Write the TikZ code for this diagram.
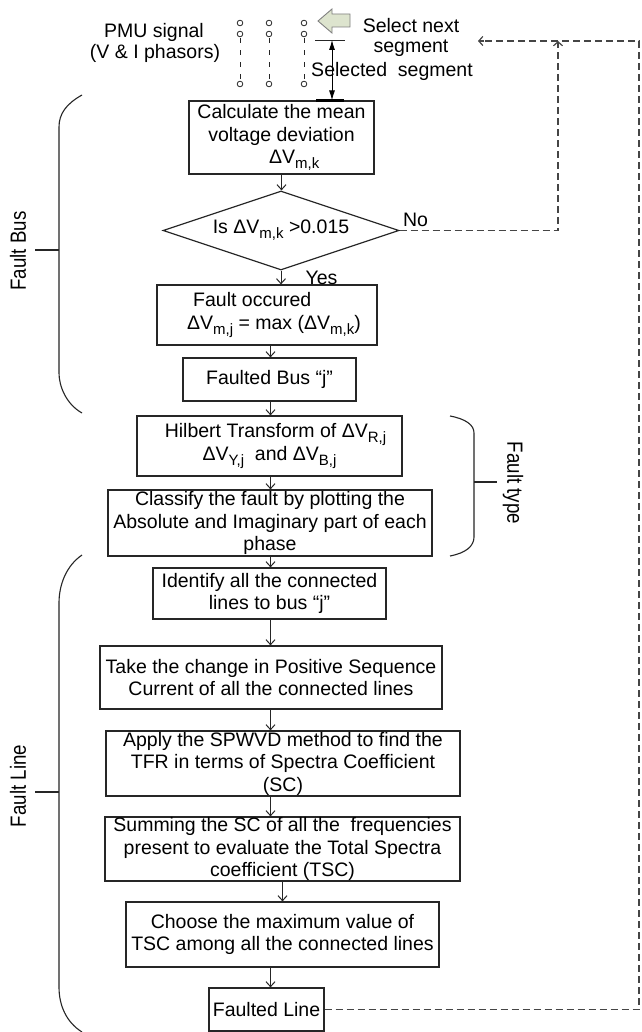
\documentclass[tikz,border=0pt]{standalone}
\usepackage{fontspec}
\setmainfont{Liberation Sans}
\usetikzlibrary{arrows.meta,shapes.geometric}
\newcommand{\lsub}[1]{\raisebox{-0.5ex}{\fontsize{15pt}{15pt}\selectfont #1}}
\definecolor{arrowfill}{HTML}{DDE4CE}
\definecolor{fbgray}{HTML}{454545}
\begin{document}
\begin{tikzpicture}[x=1pt,y=-1pt,
  txt/.style={font=\fontsize{19.5pt}{22.5pt}\selectfont, inner sep=0pt},
  box/.style={txt, draw=black!85, line width=1.2pt, align=center},
  arr/.style={draw=black!85, line width=1pt, -{Straight Barb[length=5pt,width=9pt]}},
  fb/.style={draw=fbgray, line width=1.3pt, dash pattern=on 7pt off 4pt},
  fbtip/.style={-{Straight Barb[length=4pt,width=9pt]}},
  side/.style={font=\fontsize{22pt}{22pt}\selectfont, inner sep=0pt},
  brace/.style={draw=black!85, line width=1.1pt},
  pin/.style={draw=black!85, line width=0.8pt}]
\path[use as bounding box, fill=white] (0,0) rectangle (641,1032);

% PMU signal lines
\foreach \c in {240,269,304}{
  \draw[pin] (\c,23) circle (2.8);
  \draw[pin] (\c,34) circle (2.8);
  \draw[pin] (\c,84) circle (2.8);
  \draw[pin, dash pattern=on 5pt off 7pt] (\c,38.5) -- (\c,80);
}
\node[txt] (pmu1) at (154,32) {PMU signal};
\node[txt] (pmu2) at (155,53) {(V \& I phasors)};
\node[txt] (sel1) at (411,26) {Select next};
\node[txt] (sel2) at (411,48) {segment};
\node[txt] (sel3) at (392,71) {Selected\ \ segment};

% fat arrow
\draw[draw=gray, fill=arrowfill, line width=0.9pt] (318,21) -- (332,9) -- (332,14) -- (350,14) -- (350,27) -- (332,27) -- (332,33) -- cycle;

% boxes
\node[box, minimum width=185pt, minimum height=73pt] (b1) at (281.5,137.5)
  {Calculate the mean\\voltage deviation\\\hspace*{1.3em}ΔV\lsub{m,k}};
\node[txt, draw=black!85, line width=1.2pt, diamond, aspect=3, minimum width=236pt, minimum height=79pt] (dia) at (281,230.5)
  {Is ΔV\lsub{m,k} >0.015};
\node[box, align=left, minimum width=220pt, minimum height=60pt] (b2) at (267,315)
  {\hspace*{20pt}Fault occured\\\hspace*{14pt}ΔV\lsub{m,j} = max (ΔV\lsub{m,k})};
\node[box, minimum width=173pt, minimum height=43pt] (b3) at (269.5,379.5)
  {Faulted Bus “j”};
\node[box, minimum width=265pt, minimum height=60pt] (b4) at (269.5,446)
  {\hspace*{12pt}Hilbert Transform of ΔV\lsub{R,j}\\ΔV\lsub{Y,j}\ \ and ΔV\lsub{B,j}};
\node[box, minimum width=324pt, minimum height=66pt] (b5) at (270,523)
  {Classify the fault by plotting the\\Absolute and Imaginary part of each\\phase};
\node[box, minimum width=233pt, minimum height=51pt] (b6) at (269.5,593.5)
  {Identify all the connected\\lines to bus “j”};
\node[box, minimum width=342pt, minimum height=63pt] (b7) at (271,677.5)
  {Take the change in Positive Sequence\\Current of all the connected lines};
\node[box, minimum width=354pt, minimum height=65pt] (b8) at (283,763.5)
  {Apply the SPWVD method to find the\\TFR in terms of Spectra Coefficient\\(SC)};
\node[box, minimum width=355pt, minimum height=64pt] (b9) at (282.5,849)
  {Summing the SC of all the\ \ frequencies\\present to evaluate the Total Spectra\\coefficient (TSC)};
\node[box, minimum width=313pt, minimum height=65pt] (b10) at (282.5,934.5)
  {Choose the maximum value of\\TSC among all the connected lines};
\node[box, minimum width=115pt, minimum height=43pt] (b11) at (266.5,1009.5)
  {Faulted Line};

\node[txt] (no) at (415.5,220) {No};
\node[txt] (yes) at (321.5,278) {Yes};

% segment selection arrow
\coordinate (segtop) at (332,40);
\draw[pin] (315,40) -- (345,40);
\draw[line width=0.9pt, {Latex[length=10pt,width=6pt]}-{Latex[length=10pt,width=6pt]}] (segtop) -- (segtop |- b1.north);
\draw[line width=2.6pt] ([xshift=-16pt]segtop |- b1.north) -- ([xshift=12pt]segtop |- b1.north);

% flow arrows
\coordinate (xa) at (270.5,0);
\draw[arr] (b1.south) -- (b1.south |- dia.north);
\draw[arr] (dia.south) -- (dia.south |- b2.north);
\draw[arr] (b2.south -| xa) -- (b3.north -| xa);
\draw[arr] (b3.south -| xa) -- (b4.north -| xa);
\draw[arr] (b4.south -| xa) -- (b5.north -| xa);
\draw[arr] (b5.south -| xa) -- (b6.north -| xa);
\draw[arr] (b6.south -| xa) -- (b7.north -| xa);
\draw[arr] (b7.south -| xa) -- (b8.north -| xa);
\draw[arr] (b8.south -| xa) -- (b9.north -| xa);
\draw[arr] (b9.south) -- (b10.north);
\draw[arr] (b10.south -| xa) -- (b11.north -| xa);

% feedback dashed lines
\coordinate (c1) at (558,41);
\coordinate (c2) at (639,41);
\coordinate (c3) at (478,41);
\draw[fb] (dia.east) -- (dia.east -| c1) -- ([yshift=-2pt]c1);
\draw[fbgray, line width=1.2pt, fbtip] ([yshift=-6pt]c1) -- (c1);
\draw[fb] (b11.east) -- (b11.east -| c2) -- (c2) -- ([xshift=2pt]c3);
\draw[fbgray, line width=1.2pt, fbtip] ([xshift=6pt]c3) -- (c3);

% braces
\draw[brace] (82,95) .. controls (66,104) and (59,114) .. (59,127) -- (59,373) .. controls (59,386) and (66,404) .. (82,413);
\draw[brace] (35,250) -- (59,250);
\node[side, rotate=90] (fbus) at (18,251) {\scalebox{0.85}[1]{Fault Bus}};

\draw[brace] (82,555) .. controls (66,566) and (59,585) .. (59,603) -- (59,987) .. controls (59,1005) and (66,1022) .. (82,1032);
\draw[brace] (35,792) -- (59,792);
\node[side, rotate=90] (fline) at (18,786) {\scalebox{0.85}[1]{Fault Line}};

\draw[brace] (450,416) .. controls (466,419) and (474,425) .. (474,433) -- (474,537) .. controls (474,546) and (466,553) .. (450,556);
\draw[brace] (474,482) -- (497,482);
\node[side, rotate=-90] (ftype) at (513,483) {\scalebox{0.85}[1]{Fault type}};
\end{tikzpicture}
\end{document}
